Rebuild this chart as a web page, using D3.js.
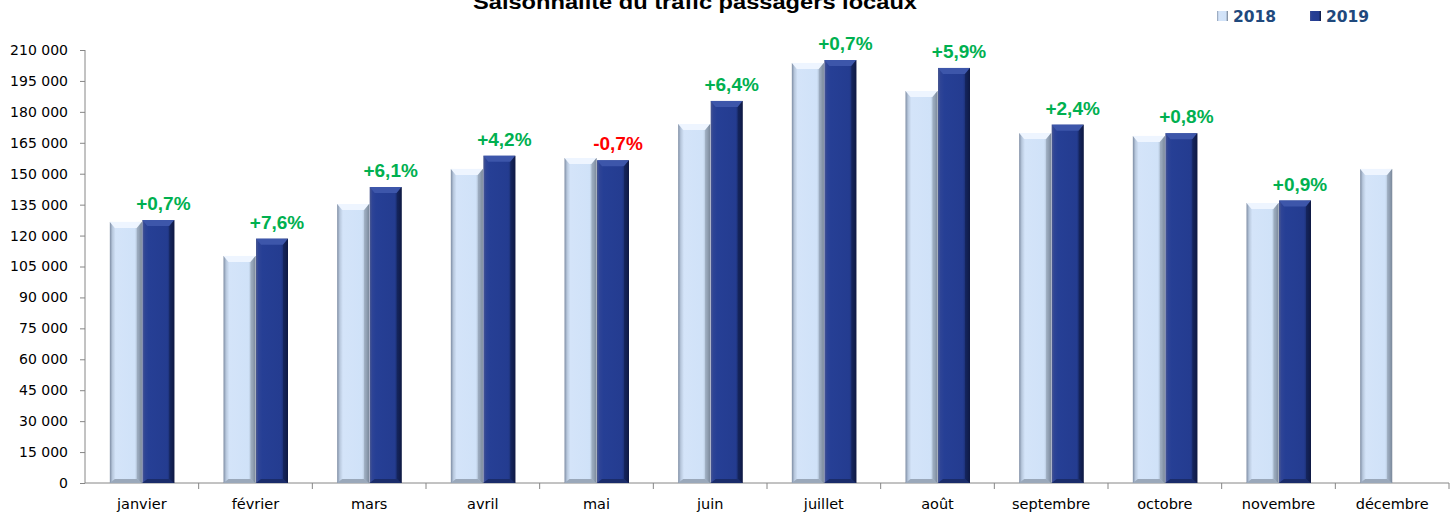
<!DOCTYPE html>
<html lang="fr">
<head>
    <meta charset="UTF-8">
    <title>Saisonnalité du trafic passagers locaux</title>
    <script src="https://d3js.org/d3.v7.min.js"></script>
    <style>
        body { margin: 0; background: #fff; }
        .axis path, .axis line { stroke: #868686; }
        .axis text { font-family: "DejaVu Sans", Verdana, sans-serif; font-size: 14px; fill: #000; }
    </style>
</head>
<body>
    <svg width="1456" height="518"></svg>
    <script>
        // Data
        const months = ["janvier", "février", "mars", "avril", "mai", "juin", "juillet", "août", "septembre", "octobre", "novembre", "décembre"];
        const values2018 = [126600, 110100, 135300, 152300, 157600, 174100, 203700, 190100, 169700, 168300, 135800, 152300];
        const values2019 = [127500, 118500, 143500, 158700, 156500, 185300, 205100, 201300, 173800, 169600, 137000, null];
        const growth = ["+0,7%", "+7,6%", "+6,1%", "+4,2%", "-0,7%", "+6,4%", "+0,7%", "+5,9%", "+2,4%", "+0,8%", "+0,9%", null];
        const yTicks = d3.range(0, 210001, 15000);
        const seriesNames = ["2018", "2019"];

        const svg = d3.select("svg");
        const margin = { left: 85, right: 7, top: 50, bottom: 35 };
        const width = 1456, height = 518;

        const x = d3.scaleBand().domain(months).range([margin.left, width - margin.right]);
        const xInner = d3.scaleBand().domain(seriesNames).range([0, 65]);
        const y = d3.scaleLinear().domain([0, 210000]).range([height - margin.bottom, margin.top]);

        // gradients for the bevelled bars
        const defs = svg.append("defs");
        const grads = {
            "2018": [[0, "#7d8ca3"], [0.08, "#b7c7dc"], [0.18, "#d4e4f9"], [0.78, "#d0e2f8"], [0.9, "#a8b8cc"], [1, "#6b788b"]],
            "2019": [[0, "#4a5890"], [0.08, "#2e4496"], [0.2, "#263f95"], [0.78, "#243c90"], [0.9, "#172a66"], [1, "#0d163c"]]
        };
        const topColor = { "2018": "#eef5ff", "2019": "#3d56aa" };
        Object.entries(grads).forEach(([k, stops]) => {
            const g = defs.append("linearGradient").attr("id", "g" + k).attr("x1", 0).attr("x2", 1).attr("y1", 0).attr("y2", 0);
            stops.forEach(s => g.append("stop").attr("offset", s[0]).attr("stop-color", s[1]));
        });

        // title (partly cut off at top, as in the original)
        svg.append("text")
            .attr("x", 695).attr("y", 9)
            .attr("text-anchor", "middle")
            .attr("textLength", 444).attr("lengthAdjust", "spacingAndGlyphs")
            .style("font-family", "Liberation Sans, Arial, sans-serif")
            .style("font-weight", "bold").style("font-size", "21px")
            .text("Saisonnalité du trafic passagers locaux");

        // legend
        const legend = svg.append("g").attr("transform", "translate(1217,11)");
        seriesNames.forEach((s, i) => {
            const lg = legend.append("g").attr("transform", `translate(${i * 93},0)`);
            lg.append("rect").attr("width", 11).attr("height", 10).attr("fill", `url(#g${s})`);
            lg.append("text").attr("x", 16).attr("y", 10.5)
                .style("font-family", "DejaVu Sans, Verdana, sans-serif")
                .style("font-weight", "bold").style("font-size", "15.5px")
                .attr("fill", "#1f497d").text(s);
        });

        // y axis
        svg.append("g").attr("class", "axis")
            .attr("transform", `translate(${margin.left},0)`)
            .call(d3.axisLeft(y).tickValues(yTicks).tickSize(5).tickPadding(12)
                .tickFormat(d => d3.format(",")(d).replace(/,/g, " ")))
            .call(g => g.select(".domain").attr("d", `M0,${y(210000)}V${y(0)}`));

        // x axis with ticks at the category boundaries
        const xAxis = svg.append("g").attr("class", "axis");
        xAxis.append("line")
            .attr("x1", x.range()[0]).attr("x2", x.range()[1])
            .attr("y1", y(0)).attr("y2", y(0));
        xAxis.selectAll(".bound").data(months.slice(1).map(m => x(m)).concat([x.range()[1]]))
            .enter().append("line")
            .attr("x1", d => d).attr("x2", d => d)
            .attr("y1", y(0)).attr("y2", y(0) + 6);
        xAxis.selectAll(".lab").data(months).enter().append("text")
            .attr("x", d => x(d) + x.bandwidth() / 2)
            .attr("y", y(0) + 26)
            .attr("text-anchor", "middle")
            .style("font-size", "14.5px")
            .text(d => d);

        // bars
        const rows = [];
        months.forEach((m, i) => {
            [values2018[i], values2019[i]].forEach((v, j) => {
                if (v != null) rows.push({ month: m, series: seriesNames[j], value: v });
            });
        });
        const groupOffset = (x.bandwidth() - 65) / 2 + 0.5;
        const bar = svg.append("g").selectAll("g").data(rows).enter().append("g")
            .attr("transform", d => `translate(${x(d.month) + groupOffset + xInner(d.series)},0)`);
        const bw = xInner.bandwidth() - 0.5;
        bar.append("rect")
            .attr("y", d => y(d.value))
            .attr("width", bw)
            .attr("height", d => y(0) - y(d.value))
            .attr("fill", d => `url(#g${d.series})`);
        // top bevel
        bar.append("path")
            .attr("d", d => {
                const t = y(d.value);
                return `M0,${t}H${bw}L${bw - 5},${t + 6}H5Z`;
            })
            .attr("fill", d => topColor[d.series]);
        bar.append("path")
            .attr("d", d => {
                const t = y(d.value);
                return `M${bw},${t}L${bw - 5},${t + 6}V${y(0) - 4}L${bw},${y(0)}Z`;
            })
            .attr("fill", d => d.series === "2018" ? "#8795a8" : "#101b48")
            .attr("opacity", 0.55);
        bar.append("path")
            .attr("d", d => `M0,${y(0)}L5,${y(0) - 4}H${bw - 5}L${bw},${y(0)}Z`)
            .attr("fill", d => d.series === "2018" ? "#9aa8ba" : "#1a2c6a");

        // growth labels above the 2019 bars
        svg.append("g").selectAll("text").data(months.filter((m, i) => growth[i] != null))
            .enter().append("text")
            .attr("x", m => x(m) + groupOffset + xInner("2019") + bw / 2 + 5)
            .attr("y", m => y(values2019[months.indexOf(m)]) - 10)
            .attr("text-anchor", "middle")
            .style("font-family", "Liberation Sans, Arial, sans-serif")
            .style("font-weight", "bold").style("font-size", "19px")
            .attr("fill", m => growth[months.indexOf(m)].startsWith("-") ? "#ff0000" : "#00b050")
            .text(m => growth[months.indexOf(m)]);
    </script>
</body>
</html>
